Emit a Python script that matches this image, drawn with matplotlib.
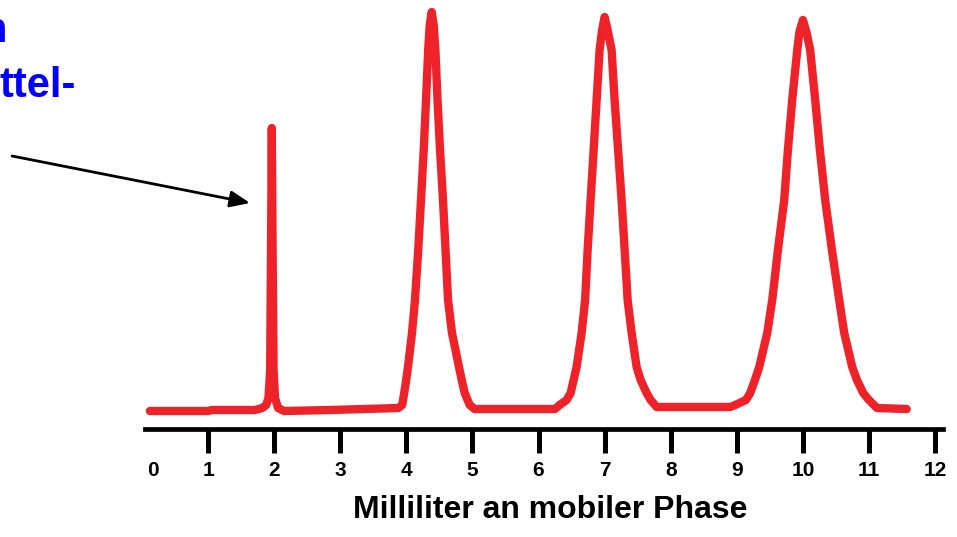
import matplotlib.pyplot as plt
from matplotlib.transforms import ScaledTranslation

# chromatogram trace (mL vs. detector signal, arbitrary units)
ML = [0.12, 1.00, 1.06, 1.71, 1.82, 1.88, 1.915, 1.94, 1.953, 1.965, 1.977, 1.992,
      2.014, 2.06, 2.15, 2.85, 3.88,
      # peak at ~4.4 mL
      3.938, 3.968, 3.998, 4.025, 4.086, 4.131, 4.18, 4.222, 4.263, 4.298, 4.331,
      4.354, 4.384, 4.414, 4.44, 4.472, 4.51, 4.555, 4.593, 4.631, 4.691, 4.797,
      4.838, 4.883, 4.959, 5.034, 6.25,
      # peak at 7 mL
      6.319, 6.425, 6.486, 6.531, 6.576, 6.652, 6.705, 6.743, 6.788, 6.834, 6.879,
      6.924, 6.962, 7.0, 7.045, 7.106, 7.151, 7.204, 7.257, 7.303, 7.348, 7.409,
      7.484, 7.545, 7.635, 7.696, 7.787, 8.90,
      # peak at 10 mL
      8.976, 9.138, 9.203, 9.274, 9.339, 9.46, 9.536, 9.622, 9.717, 9.773, 9.838,
      9.914, 9.947, 10.0, 10.053, 10.11, 10.186, 10.257, 10.337, 10.439, 10.549,
      10.625, 10.746, 10.817, 10.912, 10.999, 11.12, 11.57]
SIGNAL = [0.0, 0.0, 0.25, 0.25, 0.75, 1.5, 3.25, 10.25, 40.25, 70.75, 40.25, 10.25,
          3.25, 0.75, 0.0, 0.25, 0.75,
          1.5, 4.5, 7.75, 11.0, 19.5, 27.75, 40.25, 52.75, 65.25, 77.75, 90.25,
          96.5, 99.75, 96.5, 90.25, 77.75, 65.25, 52.75, 40.25, 27.75, 19.5, 11.0,
          7.75, 4.5, 1.5, 0.5, 0.5,
          1.5, 2.75, 4.5, 7.75, 11.0, 19.5, 27.75, 40.25, 52.75, 65.25, 77.75,
          90.25, 95.25, 98.5, 95.25, 90.25, 77.75, 65.25, 52.75, 40.25, 27.75, 19.5,
          11.0, 7.75, 4.5, 2.75, 1.0, 1.0,
          1.5, 2.75, 4.5, 7.75, 11.0, 19.5, 27.75, 40.25, 52.75, 65.25, 77.75,
          90.25, 94.75, 97.75, 94.75, 90.25, 77.75, 65.25, 52.75, 40.25, 27.75,
          19.5, 11.0, 7.75, 4.5, 2.75, 0.75, 0.5]

TICKS = list(range(13))
XLABEL = "Milliliter an mobiler Phase"
NOTE_LINES = ["n", "ttel-"]
ARROW_FROM = (-1.965, 63.75)
ARROW_TO = (1.635, 52.0)

RED = "#ee2229"
BLUE = "#0000ff"

plt.rcParams["font.family"] = ["Liberation Sans", "DejaVu Sans"]

fig = plt.figure(figsize=(9.57, 5.37), dpi=100)
ax = fig.add_axes([0, 0, 1, 1])

ax.plot(ML, SIGNAL, color=RED, linewidth=6,
        solid_joinstyle="round", solid_capstyle="round")

ax.set_xlim(-2.147, 12.331)
ax.set_ylim(-31.5, 102.75)

for side in ["top", "left", "right"]:
    ax.spines[side].set_visible(False)
ax.spines["bottom"].set_position(("data", -4.6))
ax.spines["bottom"].set_bounds(0.05, 12.12)
ax.spines["bottom"].set_linewidth(3.4)

ax.set_yticks([])
ax.set_xticks(TICKS)
ax.set_xticklabels([str(t) for t in TICKS])
ax.tick_params(axis="x", direction="out", length=17, width=3.6, pad=6,
               labelsize=15)
for lab in ax.get_xticklabels():
    lab.set_fontweight("bold")

# no tick mark at 0, and its label sits a bit to the right
tick0 = ax.xaxis.get_major_ticks()[0]
tick0.tick1line.set_visible(False)
tick0.label1.set_transform(tick0.label1.get_transform()
                           + ScaledTranslation(0.11, 0, fig.dpi_scale_trans))

ax.set_xlabel(XLABEL, fontsize=23, fontweight="bold")
ax.xaxis.set_label_coords(0.5747, 0.078)

# annotation text, cut off at the left edge as in the slide
fig.text(7 / 957, 1 - 42 / 537, NOTE_LINES[0], ha="right", va="baseline",
         fontsize=30, fontweight="bold", color=BLUE)
fig.text(76 / 957, 1 - 97 / 537, NOTE_LINES[1], ha="right", va="baseline",
         fontsize=30, fontweight="bold", color=BLUE)

ax.annotate("", xy=ARROW_TO, xytext=ARROW_FROM,
            arrowprops=dict(arrowstyle="-|>,head_length=0.6,head_width=0.25",
                            color="black", lw=2, mutation_scale=20,
                            shrinkA=0, shrinkB=0))

fig.savefig("out.png", dpi=100)
